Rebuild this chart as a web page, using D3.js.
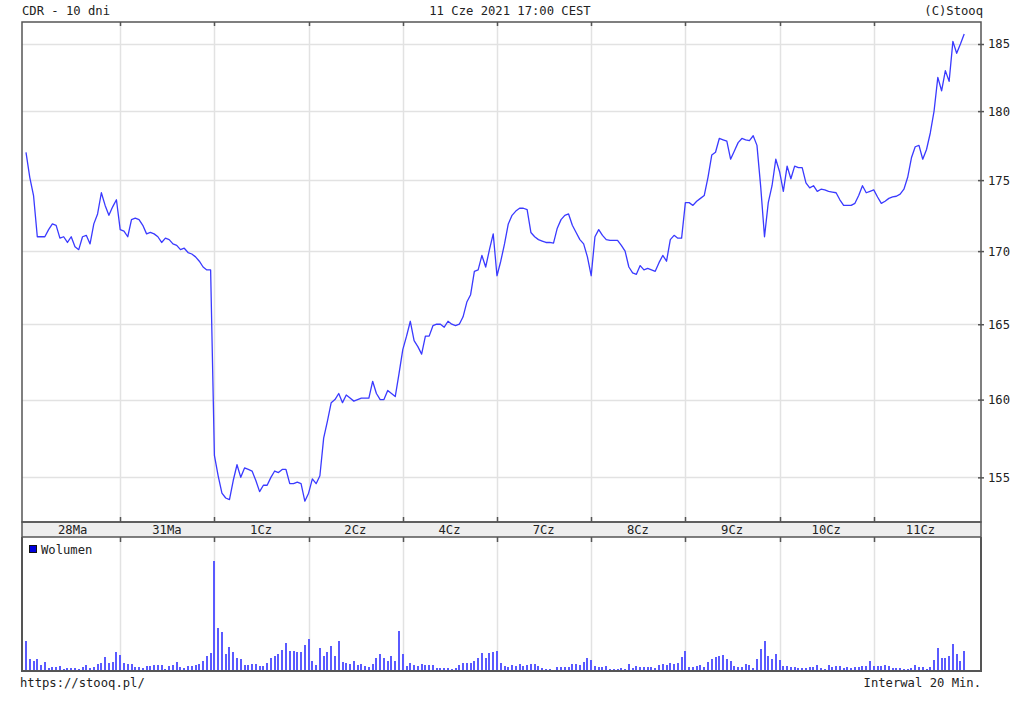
<!DOCTYPE html>
<html>
<head>
<meta charset="utf-8">
<script src="https://cdn.jsdelivr.net/npm/d3@7"></script>
<style>
  html, body { margin: 0; padding: 0; background: #fff; }
  svg text { font-family: "DejaVu Sans Mono", "Liberation Mono", monospace; font-size: 12.2px; fill: #222; }
</style>
</head>
<body>
<script>
// ---------- data ----------
const title = "CDR - 10 dni";
const dateLabel = "11 Cze 2021 17:00 CEST";
const copyright = "(C)Stooq";
const sourceUrl = "https://stooq.pl/";
const intervalLabel = "Interwal 20 Min.";
const legendLabel = "Wolumen";

const days = ["28Ma", "31Ma", "1Cz", "2Cz", "4Cz", "7Cz", "8Cz", "9Cz", "10Cz", "11Cz"];
const pointsPerDay = 25;
const priceTicks = [155, 160, 165, 170, 175, 180, 185];

// 20-minute close prices (PLN), 25 per session
const price = [
  177.0, 175.2, 173.9, 171.0, 171.0, 171.0, 171.5, 171.9, 171.8, 170.9, 171.0, 170.6, 171.0, 170.3, 170.1, 171.0, 171.1, 170.5, 171.9, 172.6, 174.1, 173.2, 172.5, 173.1, 173.6,
  171.5, 171.4, 171.0, 172.2, 172.3, 172.2, 171.8, 171.2, 171.3, 171.2, 171.0, 170.6, 170.9, 170.8, 170.5, 170.4, 170.1, 170.2, 169.9, 169.8, 169.6, 169.3, 168.9, 168.7, 168.7,
  156.4, 155.1, 154.0, 153.7, 153.6, 154.8, 155.8, 155.0, 155.6, 155.5, 155.4, 154.8, 154.1, 154.5, 154.5, 155.0, 155.4, 155.3, 155.5, 155.5, 154.6, 154.6, 154.7, 154.6, 153.5,
  154.0, 154.9, 154.6, 155.1, 157.5, 158.6, 159.8, 160.0, 160.4, 159.8, 160.3, 160.1, 159.9, 160.0, 160.1, 160.1, 160.1, 161.2, 160.4, 160.0, 160.0, 160.6, 160.4, 160.2, 161.7,
  163.3, 164.2, 165.2, 163.9, 163.5, 163.0, 164.2, 164.2, 164.9, 165.0, 165.0, 164.8, 165.2, 165.0, 164.9, 165.0, 165.5, 166.5, 167.0, 168.6, 168.7, 169.7, 168.9, 170.1, 171.2,
  168.3, 169.3, 170.5, 171.9, 172.5, 172.8, 173.0, 173.0, 172.9, 171.3, 171.0, 170.8, 170.7, 170.6, 170.6, 170.55, 171.6, 172.2, 172.5, 172.6, 171.8, 171.3, 170.8, 170.5, 169.6,
  168.3, 171.0, 171.5, 171.1, 170.8, 170.75, 170.75, 170.75, 170.4, 170.0, 168.9, 168.5, 168.4, 169.0, 168.7, 168.8, 168.7, 168.6, 169.2, 169.7, 169.3, 170.8, 171.1, 170.9, 170.9,
  173.4, 173.4, 173.2, 173.5, 173.7, 173.9, 175.2, 176.8, 177.0, 178.0, 177.9, 177.8, 176.5, 177.1, 177.7, 178.0, 177.9, 177.85, 178.2, 177.5, 174.5, 171.0, 173.4, 174.6, 176.5,
  175.6, 174.2, 176.0, 175.1, 176.0, 175.9, 175.9, 174.8, 174.45, 174.6, 174.2, 174.35, 174.3, 174.2, 174.15, 174.1, 173.6, 173.2, 173.2, 173.2, 173.35, 173.9, 174.6, 174.1, 174.2,
  174.3, 173.8, 173.35, 173.5, 173.7, 173.8, 173.85, 174.0, 174.35, 175.2, 176.6, 177.4, 177.5, 176.5, 177.2, 178.4, 180.0, 182.5, 181.5, 183.0, 182.2, 185.2, 184.3, 185.0, 185.75
];

// 20-minute volume (relative units), 25 per session
const volume = [
  30, 12, 10, 12, 6, 9, 3, 4, 4, 5, 2, 3, 3, 3, 2, 4, 6, 3, 4, 7, 8, 14, 8, 9, 19,
  16, 8, 7, 7, 4, 4, 3, 5, 5, 6, 6, 6, 2, 5, 6, 9, 4, 3, 5, 5, 6, 7, 10, 15, 18,
  110, 43, 39, 17, 24, 19, 13, 12, 6, 6, 7, 7, 5, 5, 8, 13, 15, 17, 21, 28, 20, 20, 19, 19, 26,
  32, 10, 6, 23, 15, 19, 25, 15, 30, 9, 8, 7, 10, 6, 7, 5, 4, 7, 13, 17, 13, 10, 15, 10, 40,
  17, 5, 8, 6, 5, 7, 6, 6, 6, 3, 3, 3, 3, 2, 3, 6, 8, 8, 8, 10, 13, 18, 13, 18, 19,
  20, 8, 5, 4, 6, 5, 7, 5, 6, 7, 7, 5, 3, 2, 2, 1, 4, 4, 4, 4, 7, 7, 6, 9, 13,
  11, 5, 4, 4, 5, 2, 2, 2, 3, 2, 7, 3, 5, 4, 4, 4, 4, 3, 6, 7, 6, 8, 7, 8, 14,
  20, 4, 4, 5, 6, 4, 9, 12, 14, 15, 16, 12, 10, 5, 4, 4, 7, 6, 3, 12, 22, 30, 15, 12, 17,
  11, 5, 5, 4, 4, 3, 3, 3, 4, 4, 6, 3, 2, 6, 4, 5, 5, 3, 4, 3, 4, 4, 5, 5, 10,
  5, 5, 5, 6, 5, 3, 3, 3, 2, 2, 3, 6, 4, 4, 2, 4, 11, 23, 13, 13, 15, 27, 17, 10, 20
];

// ---------- layout ----------
const W = 1024, H = 701;
const L = 22, R = 981;
const mainTop = 22, mainBottom = 522;
const bandBottom = 537;
const volBottom = 671;

const svg = d3.select("body").append("svg").attr("width", W).attr("height", H);

const x = d3.scaleLinear().domain([0, price.length - 1]).range([26, 964.2]);
const y = d3.scaleLog().domain([152.2, 186.67]).range([mainBottom, mainTop]);
const yVol = d3.scaleLinear().domain([0, 134]).range([volBottom, bandBottom]);

const gridColor = "#e2e2e2";
const frameColor = "#555";
const boundaries = d3.range(1, days.length).map(k => k * pointsPerDay);

// horizontal grid (main)
svg.append("g").selectAll("line").data(priceTicks).join("line")
  .attr("x1", L).attr("x2", R)
  .attr("y1", d => Math.round(y(d)) + 0.5).attr("y2", d => Math.round(y(d)) + 0.5)
  .attr("stroke", gridColor).attr("stroke-width", 1.5);

// vertical grid (main + volume)
const vg = svg.append("g");
vg.selectAll("line.m").data(boundaries).join("line").attr("class", "m")
  .attr("x1", d => Math.round(x(d)) + 0.5).attr("x2", d => Math.round(x(d)) + 0.5)
  .attr("y1", mainTop).attr("y2", mainBottom)
  .attr("stroke", gridColor).attr("stroke-width", 1.5);
vg.selectAll("line.v").data(boundaries).join("line").attr("class", "v")
  .attr("x1", d => Math.round(x(d)) + 0.5).attr("x2", d => Math.round(x(d)) + 0.5)
  .attr("y1", bandBottom).attr("y2", volBottom)
  .attr("stroke", gridColor).attr("stroke-width", 1.5);

// x band
svg.append("rect").attr("x", L).attr("y", mainBottom).attr("width", R - L).attr("height", bandBottom - mainBottom)
  .attr("fill", "#eeeeee").attr("stroke", frameColor).attr("stroke-width", 1.5);

// ticks at day boundaries
const tk = svg.append("g").attr("stroke", frameColor).attr("stroke-width", 1.5);
tk.selectAll("line.a").data(boundaries).join("line").attr("class", "a")
  .attr("x1", d => Math.round(x(d)) + 0.5).attr("x2", d => Math.round(x(d)) + 0.5)
  .attr("y1", mainBottom - 5).attr("y2", mainBottom);
tk.selectAll("line.b").data(boundaries).join("line").attr("class", "b")
  .attr("x1", d => Math.round(x(d)) + 0.5).attr("x2", d => Math.round(x(d)) + 0.5)
  .attr("y1", bandBottom).attr("y2", bandBottom + 5);
tk.selectAll("line.c").data(boundaries).join("line").attr("class", "c")
  .attr("x1", d => Math.round(x(d)) + 0.5).attr("x2", d => Math.round(x(d)) + 0.5)
  .attr("y1", mainTop).attr("y2", mainTop + 4);

// day labels
svg.append("g").selectAll("text").data(days).join("text")
  .attr("x", (d, i) => x(i * pointsPerDay + 12.4))
  .attr("y", 534)
  .attr("text-anchor", "middle")
  .text(d => d);

// volume bars
svg.append("g").selectAll("rect").data(volume).join("rect")
  .attr("x", (d, i) => Math.round(x(i)) - 1)
  .attr("y", d => yVol(d))
  .attr("width", 2)
  .attr("height", d => volBottom - yVol(d))
  .attr("fill", "#5a5aff");

// price line
svg.append("path").datum(price)
  .attr("d", d3.line().x((d, i) => x(i)).y(d => y(d)))
  .attr("fill", "none").attr("stroke", "#3a3aff").attr("stroke-width", 1.3)
  .attr("stroke-linejoin", "round");

// frames
svg.append("rect").attr("x", L).attr("y", mainTop).attr("width", R - L).attr("height", mainBottom - mainTop)
  .attr("fill", "none").attr("stroke", frameColor).attr("stroke-width", 1.5);
svg.append("path")
  .attr("d", `M${L},${bandBottom}V${volBottom}H${R}V${bandBottom}`)
  .attr("fill", "none").attr("stroke", frameColor).attr("stroke-width", 2);

// right price axis
const ax = svg.append("g").attr("transform", `translate(${R},0)`)
  .call(d3.axisRight(y).tickValues(priceTicks).tickFormat(d3.format("d")).tickSize(3).tickPadding(4));
ax.select(".domain").remove();
ax.selectAll(".tick line").attr("x1", -3).attr("x2", 3).attr("stroke", frameColor).attr("stroke-width", 1.5);
ax.selectAll(".tick text").attr("fill", "#222")
  .style("font-family", '"DejaVu Sans Mono", monospace').style("font-size", "12.2px");

// legend
svg.append("rect").attr("x", 29.5).attr("y", 545.5).attr("width", 7).attr("height", 7)
  .attr("fill", "#0000dd").attr("stroke", "#111").attr("stroke-width", 1);
svg.append("text").attr("x", 41).attr("y", 554).text(legendLabel);

// header & footer
svg.append("text").attr("x", 22).attr("y", 15).text(title);
svg.append("text").attr("x", 510).attr("y", 15).attr("text-anchor", "middle").text(dateLabel);
svg.append("text").attr("x", 983).attr("y", 15).attr("text-anchor", "end").text(copyright);
svg.append("text").attr("x", 20).attr("y", 687).text(sourceUrl);
svg.append("text").attr("x", 981).attr("y", 687).attr("text-anchor", "end").text(intervalLabel);
</script>
</body>
</html>
